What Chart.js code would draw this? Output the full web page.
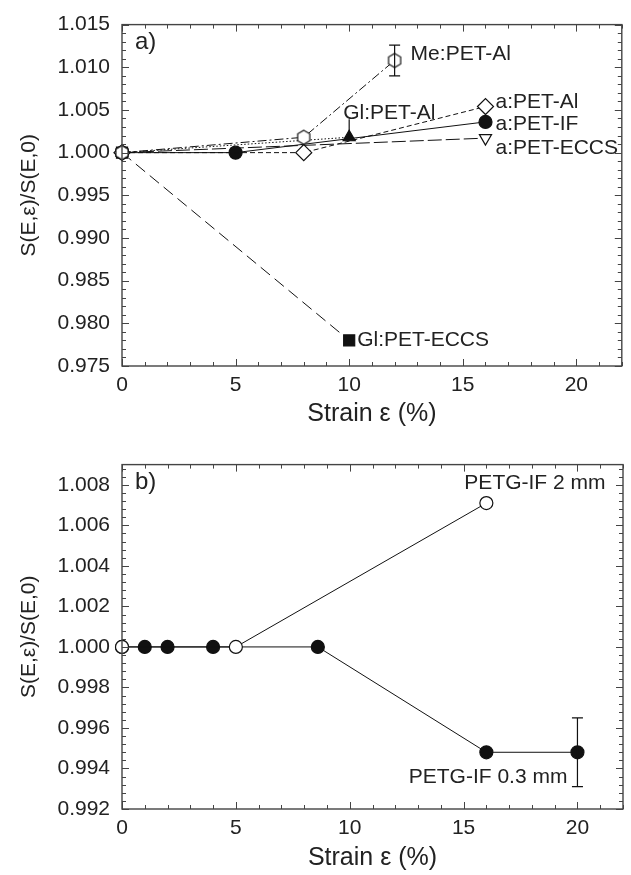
<!DOCTYPE html>
<html>
<head>
<meta charset="utf-8">
<script src="https://cdn.jsdelivr.net/npm/chart.js@4.4.0/dist/chart.umd.min.js"></script>
<style>
  body { margin: 0; background: #fff; }
  .panel { position: absolute; left: 0; width: 631px; }
  #wrapA { top: 0; height: 440px; }
  #wrapB { top: 440px; height: 435px; }
</style>
</head>
<body>
<div class="panel" id="wrapA"><canvas id="chartA"></canvas></div>
<div class="panel" id="wrapB"><canvas id="chartB"></canvas></div>
<script>
"use strict";

// panel a)
const meX = [0, 8, 12];
const meY = [1.0, 1.0018, 1.0108];
const meErr = [0, 0, 0.0018];
const aAlX = [0, 8, 16];
const aAlY = [1.0, 1.0, 1.0054];
const aIfX = [0, 5, 16];
const aIfY = [1.0, 1.0, 1.0036];
const glAlX = [0, 10];
const glAlY = [1.0, 1.0018];
const aEccsX = [0, 16];
const aEccsY = [1.0, 1.0017];
const glEccsX = [0, 10];
const glEccsY = [1.0, 0.978];

// panel b)
const petg2X = [0, 5, 16];
const petg2Y = [1.0, 1.0, 1.0071];
const petg03X = [0, 1, 2, 4, 8.6, 16, 20];
const petg03Y = [1.0, 1.0, 1.0, 1.0, 1.0, 0.9948, 0.9948];
const petg03Err = [0, 0, 0, 0, 0, 0, 0.0017];

const xTitle = "Strain ε (%)";
const yTitle = "S(E,ε)/S(E,0)";
const ink = "#111";
const textColor = "#222";

Chart.defaults.font.family = "'Liberation Sans', Arial, sans-serif";
Chart.defaults.color = textColor;

function makeHexagon(r) {
  const c = document.createElement("canvas");
  const size = Math.ceil(r * 2 + 4);
  c.width = size;
  c.height = size;
  const ctx = c.getContext("2d");
  ctx.beginPath();
  for (let i = 0; i < 6; i++) {
    const ang = -Math.PI / 2 + (i * Math.PI) / 3;
    const px = size / 2 + r * Math.cos(ang);
    const py = size / 2 + r * Math.sin(ang);
    if (i === 0) ctx.moveTo(px, py);
    else ctx.lineTo(px, py);
  }
  ctx.closePath();
  ctx.fillStyle = "#fff";
  ctx.fill();
  ctx.lineWidth = 1.2;
  ctx.strokeStyle = ink;
  ctx.stroke();
  return c;
}

function series(xs, ys, style) {
  return Object.assign(
    {
      data: xs.map((x, i) => ({ x: x, y: ys[i] })),
      showLine: true,
      borderColor: ink,
      borderWidth: 1,
      pointBorderColor: ink,
      pointBorderWidth: 1.2,
      pointBackgroundColor: ink,
      pointRadius: 6.5,
      tension: 0,
      fill: false,
      clip: false,
    },
    style
  );
}

// box with inward ticks on all four sides
const framePlugin = {
  id: "frame",
  afterDraw(chart, args, opts) {
    const { ctx, chartArea: a } = chart;
    const x = chart.scales.x;
    const y = chart.scales.y;
    ctx.save();
    ctx.strokeStyle = "#444";
    ctx.lineWidth = 1;
    ctx.beginPath();
    const nx = Math.floor((x.max - x.min) / opts.xMinor + 1e-6);
    const xPer = Math.round(opts.xMajor / opts.xMinor);
    for (let i = 0; i <= nx; i++) {
      const px = Math.round(x.getPixelForValue(x.min + i * opts.xMinor)) + 0.5;
      const len = i % xPer === 0 ? 7 : 4;
      ctx.moveTo(px, a.bottom);
      ctx.lineTo(px, a.bottom - len);
      ctx.moveTo(px, a.top);
      ctx.lineTo(px, a.top + len);
    }
    const ny = Math.floor((y.max - y.min) / opts.yMinor + 1e-6);
    const yPer = Math.round(opts.yMajor / opts.yMinor);
    for (let i = 0; i <= ny; i++) {
      const py = Math.round(y.getPixelForValue(y.min + i * opts.yMinor)) + 0.5;
      const len = i % yPer === 0 ? 7 : 4;
      ctx.moveTo(a.left, py);
      ctx.lineTo(a.left + len, py);
      ctx.moveTo(a.right, py);
      ctx.lineTo(a.right - len, py);
    }
    ctx.stroke();
    ctx.lineWidth = 1.4;
    ctx.strokeRect(a.left, a.top, a.right - a.left, a.bottom - a.top);
    ctx.restore();
  },
};

// vertical error bars from dataset.errors
const errorBarPlugin = {
  id: "errorBars",
  afterDatasetsDraw(chart) {
    const { ctx } = chart;
    const y = chart.scales.y;
    ctx.save();
    ctx.strokeStyle = ink;
    ctx.lineWidth = 1.2;
    chart.data.datasets.forEach((ds, di) => {
      if (!ds.errors) return;
      const meta = chart.getDatasetMeta(di);
      ds.errors.forEach((err, i) => {
        if (!err) return;
        const pt = meta.data[i];
        const top = y.getPixelForValue(ds.data[i].y + err);
        const bot = y.getPixelForValue(ds.data[i].y - err);
        ctx.beginPath();
        ctx.moveTo(pt.x, top);
        ctx.lineTo(pt.x, bot);
        ctx.moveTo(pt.x - 5.5, top);
        ctx.lineTo(pt.x + 5.5, top);
        ctx.moveTo(pt.x - 5.5, bot);
        ctx.lineTo(pt.x + 5.5, bot);
        ctx.stroke();
      });
    });
    ctx.restore();
  },
};

// text notes placed next to data points
const notesPlugin = {
  id: "notes",
  afterDraw(chart, args, opts) {
    const { ctx, chartArea: a } = chart;
    ctx.save();
    ctx.fillStyle = textColor;
    ctx.strokeStyle = ink;
    ctx.lineWidth = 1.2;
    ctx.textBaseline = "middle";
    opts.items.forEach((n) => {
      let bx, by;
      if (n.point) {
        const el = chart.getDatasetMeta(n.point[0]).data[n.point[1]];
        bx = el.x;
        by = el.y;
      } else {
        bx = a.left;
        by = a.top;
      }
      if (n.stem) {
        ctx.beginPath();
        ctx.moveTo(bx, by);
        ctx.lineTo(bx, by - n.stem);
        ctx.stroke();
      }
      ctx.font = (n.size || 21) + "px 'Liberation Sans', Arial, sans-serif";
      ctx.textAlign = n.align || "left";
      ctx.fillText(n.text, bx + n.dx, by + n.dy);
    });
    ctx.restore();
  },
};

function buildOptions(cfg) {
  return {
    responsive: true,
    maintainAspectRatio: false,
    animation: false,
    layout: { padding: { top: cfg.padTop, right: 8, left: 0, bottom: 0 } },
    plugins: {
      legend: { display: false },
      tooltip: { enabled: false },
      frame: { xMinor: 1, xMajor: 5, yMinor: cfg.yMinor, yMajor: cfg.yStep },
      notes: { items: cfg.notes },
    },
    scales: {
      x: {
        type: "linear",
        min: 0,
        max: 22,
        afterFit: (s) => { s.height = cfg.xHeight; },
        grid: { display: false, drawTicks: false },
        border: { display: false },
        ticks: { stepSize: 5, includeBounds: false, padding: 7, color: textColor, font: { size: 21 } },
        title: { display: true, text: xTitle, color: textColor, font: { size: 25 }, padding: { top: 0, bottom: cfg.titlePad } },
      },
      y: {
        type: "linear",
        min: cfg.yMin,
        max: cfg.yMax,
        afterFit: (s) => { s.width = 122; },
        grid: { display: false, drawTicks: false },
        border: { display: false },
        ticks: {
          stepSize: cfg.yStep,
          includeBounds: false,
          padding: 12,
          color: textColor,
          font: { size: 21 },
          callback: (v) => v.toFixed(3),
        },
        title: { display: true, text: yTitle, color: textColor, font: { size: 21 }, padding: { top: 17, bottom: 0 } },
      },
    },
  };
}

const plugins = [framePlugin, errorBarPlugin, notesPlugin];

new Chart(document.getElementById("chartA"), {
  type: "scatter",
  data: {
    datasets: [
      series(meX, meY, { borderDash: [9, 3, 2, 3], pointStyle: makeHexagon(7), errors: meErr }),
      series(aAlX, aAlY, { borderDash: [5, 3], pointStyle: "rectRot", pointRadius: 8, pointBackgroundColor: "#fff" }),
      series(aIfX, aIfY, { pointStyle: "circle" }),
      series(glAlX, glAlY, { borderDash: [1.5, 2], pointStyle: "triangle", pointRadius: 7 }),
      series(aEccsX, aEccsY, { borderDash: [14, 4], pointStyle: "triangle", pointRotation: 180, pointRadius: 7, pointBackgroundColor: "#fff" }),
      series(glEccsX, glEccsY, { borderDash: [12, 6], pointStyle: "rect", pointRadius: 7.8 }),
    ],
  },
  options: buildOptions({
    padTop: 15,
    xHeight: 74,
    titlePad: 11,
    yMin: 0.975,
    yMax: 1.015,
    yStep: 0.005,
    yMinor: 0.001,
    notes: [
      { text: "a)", dx: 13, dy: 18, size: 24 },
      { text: "Me:PET-Al", point: [0, 2], dx: 16, dy: -6 },
      { text: "Gl:PET-Al", point: [3, 1], dx: -6, dy: -24, stem: 18 },
      { text: "a:PET-Al", point: [1, 2], dx: 10, dy: -4 },
      { text: "a:PET-IF", point: [2, 2], dx: 10, dy: 2 },
      { text: "a:PET-ECCS", point: [4, 1], dx: 10, dy: 10 },
      { text: "Gl:PET-ECCS", point: [5, 1], dx: 8, dy: 0 },
    ],
  }),
  plugins: plugins,
});

new Chart(document.getElementById("chartB"), {
  type: "scatter",
  data: {
    datasets: [
      series(petg2X, petg2Y, { pointStyle: "circle", pointBackgroundColor: "#fff" }),
      series(petg03X, petg03Y, { pointStyle: "circle", errors: petg03Err }),
    ],
  },
  options: buildOptions({
    padTop: 17,
    xHeight: 66,
    titlePad: 2,
    yMin: 0.992,
    yMax: 1.009,
    yStep: 0.002,
    yMinor: 0.0004,
    notes: [
      { text: "b)", dx: 13, dy: 18, size: 24 },
      { text: "PETG-IF 2 mm", point: [0, 2], dx: -22, dy: -20 },
      { text: "PETG-IF 0.3 mm", point: [1, 6], dx: -10, dy: 25, align: "right" },
    ],
  }),
  plugins: plugins,
});
</script>
</body>
</html>
